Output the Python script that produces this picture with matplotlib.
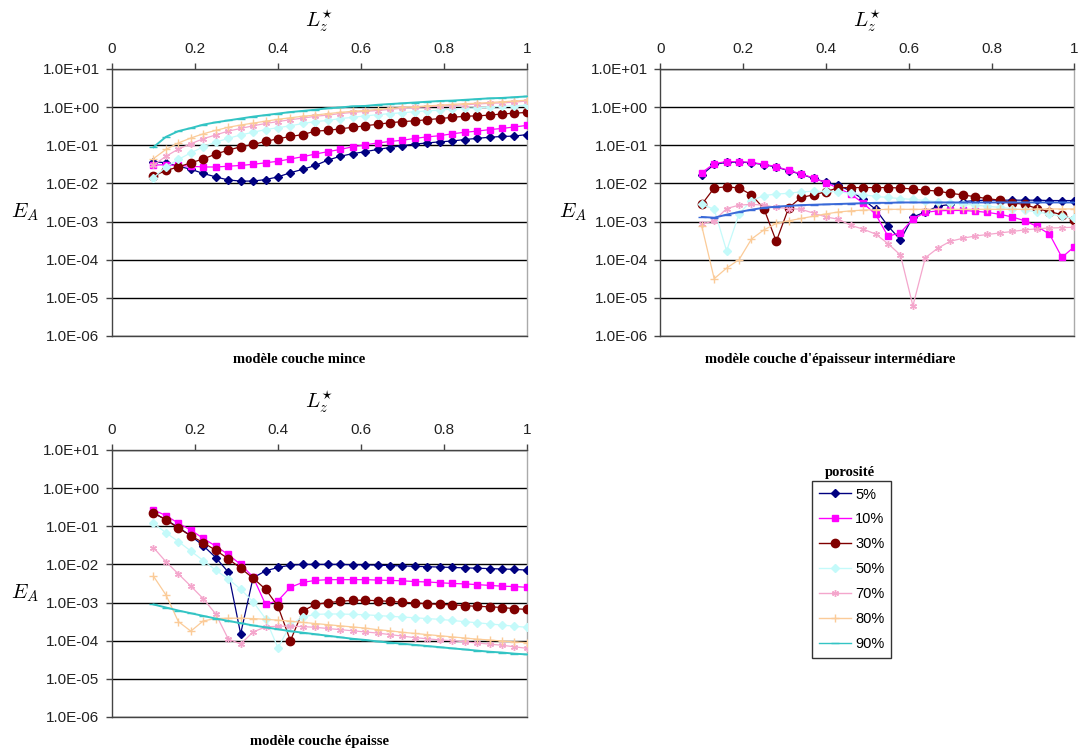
import matplotlib
matplotlib.use("Agg")
import matplotlib.pyplot as plt
import numpy as np
from matplotlib.lines import Line2D
from matplotlib.ticker import FixedLocator, FuncFormatter, NullLocator

# L_z* abscissa: 0.10, 0.13, ... 1.00
LZ = [0.10, 0.13, 0.16, 0.19, 0.22, 0.25, 0.28, 0.31, 0.34, 0.37, 0.40,
      0.43, 0.46, 0.49, 0.52, 0.55, 0.58, 0.61, 0.64, 0.67, 0.70, 0.73,
      0.76, 0.79, 0.82, 0.85, 0.88, 0.91, 0.94, 0.97, 1.00]

POROSITES = ["5%", "10%", "30%", "50%", "70%", "80%", "90%"]

# log10(E_A), modèle couche mince
mince_05 = [-1.43, -1.46, -1.55, -1.63, -1.74, -1.83, -1.91, -1.94, -1.94, -1.90, -1.83,
            -1.72, -1.63, -1.53, -1.39, -1.29, -1.22, -1.17, -1.11, -1.06, -1.01, -0.97,
            -0.94, -0.91, -0.89, -0.85, -0.82, -0.79, -0.77, -0.76, -0.72]
mince_10 = [-1.52, -1.51, -1.53, -1.55, -1.57, -1.57, -1.55, -1.53, -1.50, -1.46, -1.42,
            -1.36, -1.30, -1.23, -1.17, -1.11, -1.04, -0.99, -0.94, -0.90, -0.87, -0.82,
            -0.78, -0.75, -0.70, -0.66, -0.63, -0.59, -0.56, -0.52, -0.48]
mince_30 = [-1.81, -1.66, -1.57, -1.46, -1.36, -1.23, -1.13, -1.04, -0.98, -0.90, -0.83,
            -0.77, -0.72, -0.63, -0.61, -0.57, -0.53, -0.49, -0.45, -0.41, -0.38, -0.36,
            -0.33, -0.30, -0.27, -0.24, -0.23, -0.21, -0.18, -0.16, -0.14]
mince_50 = [-1.85, -1.57, -1.37, -1.20, -1.04, -0.92, -0.82, -0.73, -0.66, -0.59, -0.54,
            -0.49, -0.43, -0.38, -0.35, -0.30, -0.27, -0.23, -0.20, -0.17, -0.15, -0.12,
            -0.10, -0.08, -0.05, -0.03, -0.02, 0.00, 0.02, 0.03, 0.05]
mince_70 = [-1.52, -1.29, -1.10, -0.96, -0.83, -0.73, -0.63, -0.56, -0.49, -0.43, -0.38,
            -0.33, -0.29, -0.24, -0.21, -0.17, -0.14, -0.11, -0.09, -0.06, -0.03, -0.01,
            0.01, 0.03, 0.04, 0.06, 0.08, 0.10, 0.11, 0.13, 0.16]
mince_80 = [-1.35, -1.11, -0.94, -0.81, -0.70, -0.61, -0.53, -0.47, -0.42, -0.37, -0.32,
            -0.28, -0.24, -0.21, -0.17, -0.14, -0.11, -0.09, -0.06, -0.03, -0.01, 0.01,
            0.03, 0.05, 0.07, 0.09, 0.10, 0.12, 0.14, 0.16, 0.18]
mince_90 = [-1.05, -0.78, -0.63, -0.55, -0.46, -0.40, -0.35, -0.30, -0.25, -0.21, -0.17,
            -0.13, -0.10, -0.07, -0.03, -0.01, 0.02, 0.03, 0.06, 0.08, 0.10, 0.12,
            0.14, 0.16, 0.17, 0.19, 0.21, 0.23, 0.24, 0.26, 0.28]

# log10(E_A), modèle couche d'épaisseur intermédiaire
inter_05 = [-1.78, -1.50, -1.45, -1.44, -1.46, -1.51, -1.57, -1.67, -1.76, -1.87, -1.97,
            -2.05, -2.20, -2.42, -2.68, -3.12, -3.48, -2.88, -2.75, -2.60, -2.55, -2.48,
            -2.45, -2.44, -2.44, -2.44, -2.44, -2.44, -2.45, -2.45, -2.45]
inter_10 = [-1.72, -1.48, -1.43, -1.43, -1.45, -1.50, -1.56, -1.66, -1.75, -1.86, -1.98,
            -2.13, -2.28, -2.52, -2.81, -3.39, -3.29, -2.94, -2.76, -2.72, -2.71, -2.71,
            -2.73, -2.76, -2.81, -2.88, -2.98, -3.13, -3.33, -3.94, -3.66]
inter_30 = [-2.55, -2.12, -2.09, -2.12, -2.30, -2.66, -3.52, -2.64, -2.37, -2.30, -2.22,
            -2.11, -2.11, -2.11, -2.11, -2.11, -2.12, -2.15, -2.18, -2.20, -2.26, -2.30,
            -2.35, -2.40, -2.44, -2.51, -2.55, -2.66, -2.74, -2.82, -2.96]
inter_50 = [-2.55, -2.68, -3.77, -2.80, -2.45, -2.32, -2.28, -2.26, -2.22, -2.21, -2.21,
            -2.22, -2.26, -2.30, -2.34, -2.37, -2.40, -2.42, -2.45, -2.48, -2.51, -2.54,
            -2.57, -2.60, -2.63, -2.66, -2.70, -2.75, -2.80, -2.86, -2.92]
inter_70 = [-3.07, -2.98, -2.66, -2.57, -2.55, -2.57, -2.63, -2.66, -2.68, -2.78, -2.88,
            -2.94, -3.10, -3.20, -3.33, -3.58, -3.88, -5.21, -3.95, -3.70, -3.52, -3.44,
            -3.38, -3.34, -3.30, -3.26, -3.22, -3.19, -3.17, -3.16, -3.15]
inter_80 = [-3.12, -4.50, -4.22, -4.00, -3.46, -3.22, -3.05, -2.98, -2.92, -2.86, -2.80,
            -2.75, -2.72, -2.70, -2.69, -2.68, -2.68, -2.68, -2.68, -2.68, -2.68, -2.68,
            -2.68, -2.68, -2.68, -2.68, -2.68, -2.67, -2.67, -2.67, -2.67]
inter_90 = [-2.88, -2.90, -2.82, -2.75, -2.69, -2.64, -2.61, -2.59, -2.57, -2.56, -2.55,
            -2.54, -2.53, -2.52, -2.51, -2.51, -2.50, -2.50, -2.50, -2.50, -2.50, -2.50,
            -2.50, -2.50, -2.50, -2.50, -2.50, -2.50, -2.50, -2.50, -2.50]

# log10(E_A), modèle couche épaisse
epais_05 = [-0.65, -0.83, -1.03, -1.25, -1.51, -1.82, -2.20, -3.82, -2.35, -2.17, -2.08,
            -2.02, -2.00, -2.00, -2.00, -2.00, -2.01, -2.01, -2.02, -2.03, -2.04, -2.05,
            -2.06, -2.07, -2.08, -2.09, -2.10, -2.11, -2.12, -2.13, -2.15]
epais_10 = [-0.57, -0.72, -0.92, -1.10, -1.32, -1.52, -1.74, -2.00, -2.33, -3.05, -2.95,
            -2.60, -2.47, -2.42, -2.40, -2.40, -2.40, -2.40, -2.41, -2.42, -2.43, -2.45,
            -2.46, -2.48, -2.50, -2.51, -2.53, -2.55, -2.57, -2.58, -2.60]
epais_30 = [-0.65, -0.83, -1.05, -1.25, -1.43, -1.63, -1.85, -2.10, -2.36, -2.65, -3.10,
            -4.00, -3.22, -3.05, -3.00, -2.97, -2.94, -2.94, -2.95, -2.97, -2.99, -3.01,
            -3.03, -3.05, -3.06, -3.08, -3.10, -3.11, -3.13, -3.16, -3.18]
epais_50 = [-0.92, -1.17, -1.40, -1.65, -1.90, -2.15, -2.38, -2.65, -2.98, -3.42, -4.19,
            -3.58, -3.38, -3.31, -3.30, -3.30, -3.31, -3.32, -3.34, -3.36, -3.38, -3.40,
            -3.42, -3.44, -3.47, -3.50, -3.53, -3.56, -3.59, -3.62, -3.65]
epais_70 = [-1.56, -1.93, -2.25, -2.57, -2.90, -3.30, -3.95, -4.09, -3.77, -3.64, -3.62,
            -3.62, -3.63, -3.65, -3.68, -3.71, -3.74, -3.77, -3.80, -3.84, -3.88, -3.92,
            -3.95, -3.98, -4.00, -4.03, -4.06, -4.09, -4.12, -4.16, -4.20]
epais_80 = [-2.31, -2.80, -3.50, -3.75, -3.48, -3.42, -3.41, -3.41, -3.42, -3.44, -3.46,
            -3.49, -3.52, -3.55, -3.58, -3.61, -3.64, -3.67, -3.71, -3.74, -3.78, -3.81,
            -3.84, -3.87, -3.90, -3.93, -3.96, -3.98, -4.01, -4.03, -4.05]
epais_90 = [-3.05, -3.13, -3.21, -3.28, -3.35, -3.42, -3.48, -3.54, -3.60, -3.65, -3.70,
            -3.75, -3.79, -3.83, -3.87, -3.91, -3.95, -3.98, -4.02, -4.05, -4.08, -4.11,
            -4.14, -4.17, -4.20, -4.23, -4.26, -4.29, -4.31, -4.34, -4.36]

COLORS = ["#000080", "#FF00FF", "#800000", "#C4FAFA", "#F4A6CC", "#FBCB98", "#33C4C4"]
MARKERS = ["D", "s", "o", "D", (6, 2, 0), "+", "_"]
MSIZES = [4.5, 5, 6, 4.5, 5, 6, 6]
LWIDTHS = [0.9, 0.9, 0.9, 0.9, 0.9, 0.9, 1.4]

TICK_FONT = "Liberation Sans"
TITLE_FONT = "Liberation Serif"


def sci_fmt(v, pos):
    return f"{v:.1E}"


def draw_panel(ax, series, title, colors, title_x=0.5):
    for vals, col, mk, ms, lw in zip(series, colors, MARKERS, MSIZES, LWIDTHS):
        ax.plot(LZ, np.power(10.0, vals), color=col, marker=mk, markersize=ms,
                markeredgewidth=1.0, linewidth=lw, zorder=3)
    ax.set_yscale("log")
    ax.set_xlim(0, 1)
    ax.set_ylim(1e-6, 1e1)
    ax.xaxis.tick_top()
    ax.set_xticks([0, 0.2, 0.4, 0.6, 0.8, 1])
    ax.set_xticklabels(["0", "0.2", "0.4", "0.6", "0.8", "1"])
    ax.yaxis.set_major_locator(FixedLocator([1e-6, 1e-5, 1e-4, 1e-3, 1e-2, 1e-1, 1e0, 1e1]))
    ax.yaxis.set_minor_locator(NullLocator())
    ax.yaxis.set_major_formatter(FuncFormatter(sci_fmt))
    ax.grid(axis="y", color="black", linewidth=1.0, zorder=1)
    ax.set_axisbelow(True)
    ax.tick_params(axis="both", direction="out", length=4, width=1.0, color="#444444",
                   labelsize=11, labelcolor="#222222", pad=5)
    for lab in ax.get_xticklabels() + ax.get_yticklabels():
        lab.set_fontfamily(TICK_FONT)
    ax.spines["left"].set_color("#444444")
    ax.spines["top"].set_color("#444444")
    ax.spines["bottom"].set_color("#444444")
    ax.spines["right"].set_color("#AAAAAA")
    for sp in ax.spines.values():
        sp.set_linewidth(1.0)
    ax.text(0.5, 1.18, r"$L_z^{\star}$", transform=ax.transAxes, ha="center", va="center",
            fontsize=15)
    ax.text(-0.21, 0.465, r"$E_A$", transform=ax.transAxes, ha="center", va="center",
            fontsize=15)
    ax.text(title_x, -0.09, title, transform=ax.transAxes, ha="center", va="center",
            fontsize=10.5, fontweight="bold", fontfamily=TITLE_FONT)


plt.rcParams["mathtext.fontset"] = "cm"

fig = plt.figure(figsize=(10.78, 7.56), dpi=100)
ax1 = fig.add_axes([0.1039, 0.5556, 0.3849, 0.3532])
ax2 = fig.add_axes([0.6126, 0.5556, 0.3840, 0.3532])
ax3 = fig.add_axes([0.1039, 0.0516, 0.3849, 0.3532])

draw_panel(ax1, [mince_05, mince_10, mince_30, mince_50, mince_70, mince_80, mince_90],
           "modèle couche mince", COLORS, title_x=0.45)
inter_colors = COLORS[:6] + ["#3A6AD8"]
draw_panel(ax2, [inter_05, inter_10, inter_30, inter_50, inter_70, inter_80, inter_90],
           "modèle couche d'épaisseur intermédiare", inter_colors, title_x=0.41)
draw_panel(ax3, [epais_05, epais_10, epais_30, epais_50, epais_70, epais_80, epais_90],
           "modèle couche épaisse", COLORS)

handles = [Line2D([0], [0], color=c, marker=m, markersize=s, linewidth=1.0)
           for c, m, s in zip(COLORS, MARKERS, MSIZES)]
leg = fig.legend(handles, POROSITES, loc="upper left", bbox_to_anchor=(0.7532, 0.3638),
                 borderaxespad=0.0, frameon=True, fancybox=False, edgecolor="black",
                 handlelength=2.2, handletextpad=0.3, labelspacing=0.75, borderpad=0.45,
                 prop={"family": TICK_FONT, "size": 10.5})
leg.get_frame().set_linewidth(1.0)
fig.text(0.7885, 0.3755, "porosité", ha="center", va="center", fontsize=10.5,
         fontweight="bold", fontfamily=TITLE_FONT)

fig.savefig("out.png", dpi=100)
